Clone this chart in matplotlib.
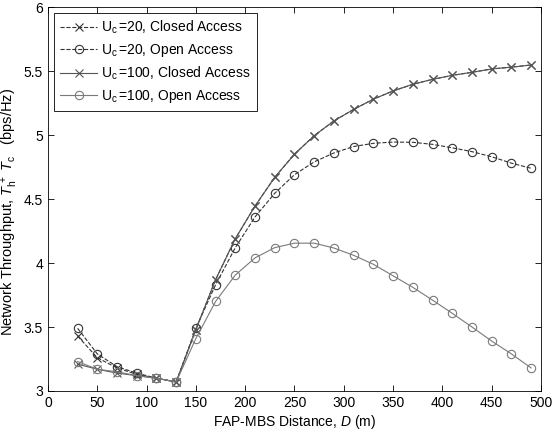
import matplotlib
matplotlib.use("Agg")
import matplotlib.pyplot as plt

plt.rcParams['font.family'] = ['Liberation Sans', 'DejaVu Sans']
plt.rcParams['mathtext.fontset'] = 'custom'
plt.rcParams['mathtext.rm'] = 'Liberation Sans'
plt.rcParams['mathtext.it'] = 'Liberation Sans:italic'

D = [30, 50, 70, 90, 110, 130, 150, 170, 190, 210, 230, 250,
     270, 290, 310, 330, 350, 370, 390, 410, 430, 450, 470, 490]

uc20_closed = [3.43, 3.26, 3.18, 3.13, 3.10, 3.07, 3.48, 3.87, 4.19, 4.445, 4.67, 4.85,
               4.995, 5.11, 5.20, 5.28, 5.344, 5.396, 5.435, 5.466, 5.49, 5.516, 5.53, 5.547]
uc20_open = [3.49, 3.29, 3.19, 3.14, 3.10, 3.07, 3.49, 3.83, 4.12, 4.36, 4.545, 4.69,
             4.79, 4.86, 4.91, 4.935, 4.945, 4.943, 4.927, 4.90, 4.87, 4.83, 4.78, 4.74]
uc100_closed = [3.21, 3.17, 3.14, 3.12, 3.10, 3.07, 3.48, 3.87, 4.19, 4.445, 4.67, 4.85,
                4.995, 5.11, 5.20, 5.28, 5.344, 5.396, 5.435, 5.466, 5.49, 5.516, 5.53, 5.547]
uc100_open = [3.23, 3.17, 3.15, 3.12, 3.10, 3.07, 3.41, 3.70, 3.906, 4.04, 4.12, 4.155,
              4.155, 4.117, 4.06, 3.99, 3.90, 3.81, 3.71, 3.607, 3.50, 3.39, 3.29, 3.18]

labels = ['U$_{\\mathrm{c}}\\,$=20, Closed Access', 'U$_{\\mathrm{c}}\\,$=20, Open Access',
          'U$_{\\mathrm{c}}\\,$=100, Closed Access', 'U$_{\\mathrm{c}}\\,$=100, Open Access']

fig = plt.figure(figsize=(5.54, 4.30), dpi=100)
ax = fig.add_axes([0.0866, 0.0907, 0.8899, 0.893])

ax.plot(D, uc20_closed, '--', marker='x', color='#333333', lw=0.8, ms=6, mew=0.8, label=labels[0])
ax.plot(D, uc20_open, '--', marker='o', color='#333333', lw=0.8, ms=6, mew=0.8, mfc='none', label=labels[1])
ax.plot(D, uc100_closed, '-', marker='x', color='#555555', lw=0.8, ms=6, mew=0.8, label=labels[2])
ax.plot(D, uc100_open, '-', marker='o', color='#7a7a7a', lw=0.8, ms=6, mew=0.8, mfc='none', label=labels[3])

ax.set_xlim(0, 500)
ax.set_ylim(3, 6)
ax.set_xticks(range(0, 501, 50))
ax.set_yticks([3, 3.5, 4, 4.5, 5, 5.5, 6])
ax.set_yticklabels(['3', '3.5', '4', '4.5', '5', '5.5', '6'])
ax.tick_params(direction='in', top=True, right=True, labelsize=10, length=4, width=0.6)
for s in ax.spines.values():
    s.set_linewidth(0.6)

ax.set_xlabel('FAP-MBS Distance, $D$ (m)', fontsize=10, labelpad=2)
ax.set_ylabel('Network Throughput, $T_{\\mathrm{h}}^{\\,+}\\;T_{\\mathrm{c}}$   (bps/Hz)',
              fontsize=10.5)
ax.yaxis.set_label_coords(-0.057, 0.465)

leg = ax.legend(loc='upper left', fontsize=10, numpoints=1, fancybox=False,
                edgecolor='black', framealpha=1, handlelength=2.7,
                borderaxespad=0.45, labelspacing=0.42, handletextpad=0.3,
                borderpad=0.4)
leg.get_frame().set_linewidth(0.6)

fig.savefig('out.png', dpi=100)
